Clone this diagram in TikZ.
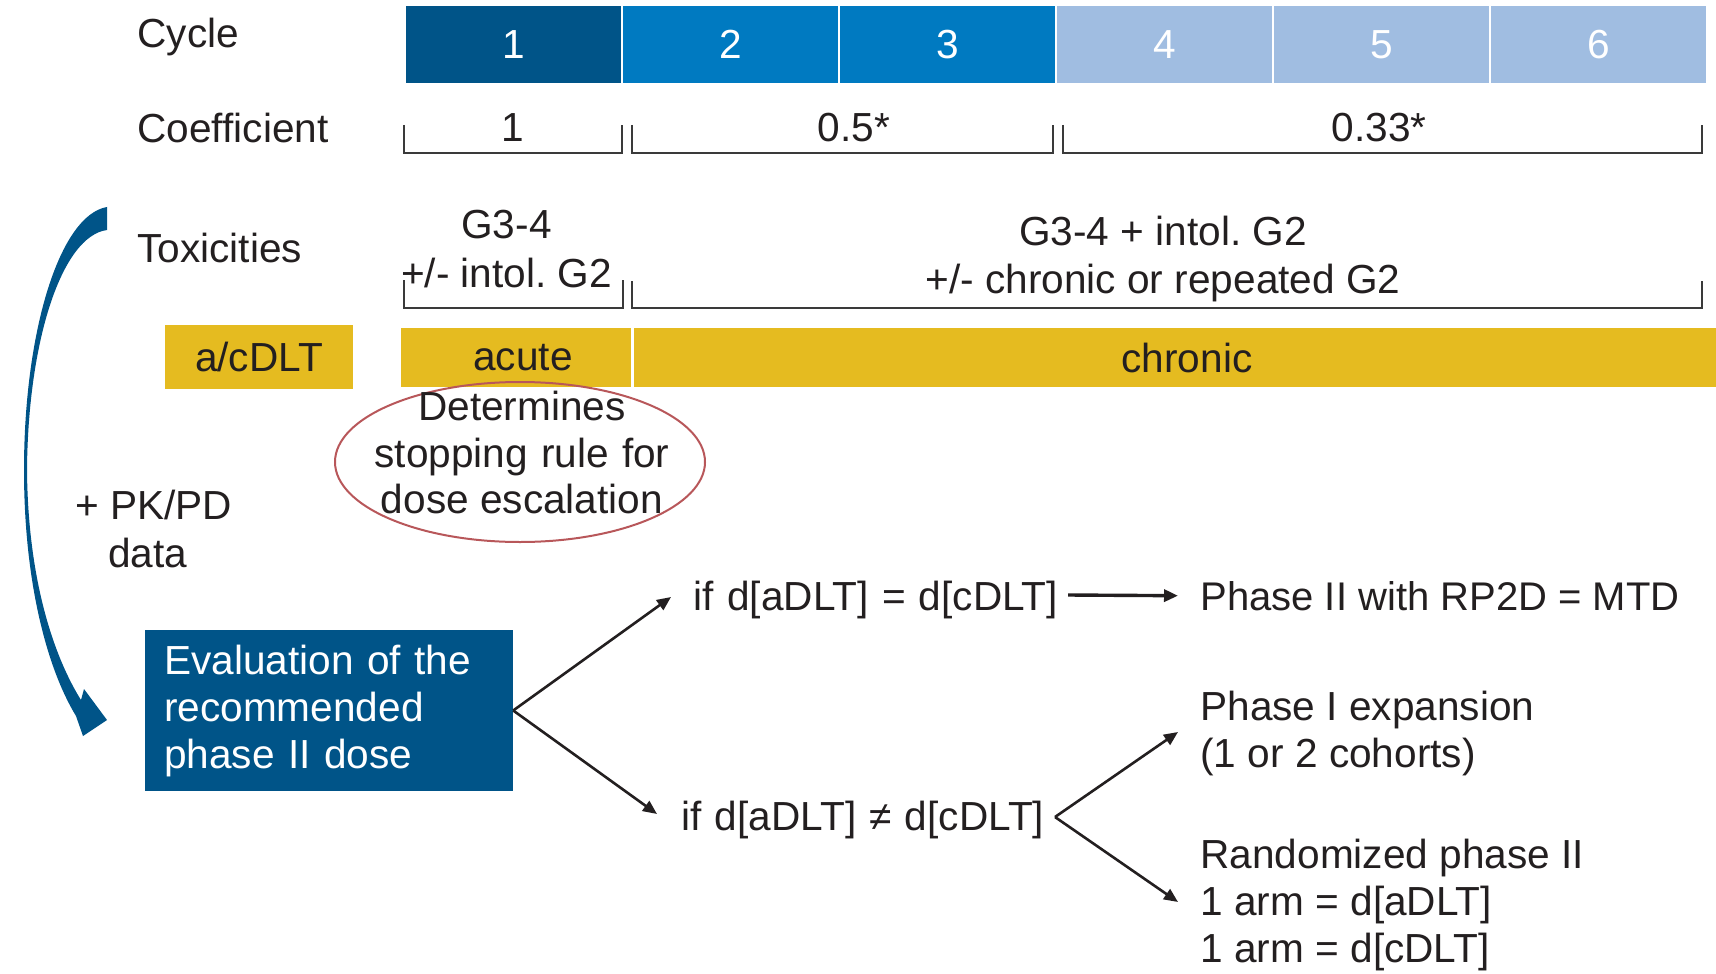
\documentclass[tikz,border=0pt]{standalone}
\usepackage{fontspec}
\setmainfont{Liberation Sans}
\usetikzlibrary{arrows.meta,shapes.geometric}

\definecolor{cycA}{HTML}{005488}
\definecolor{cycB}{HTML}{007AC1}
\definecolor{cycC}{HTML}{A0BDE1}
\definecolor{gold}{HTML}{E5BB20}
\definecolor{ink}{HTML}{231F20}
\definecolor{ring}{HTML}{B8575A}
\definecolor{brk}{HTML}{3A3A3A}

\newcommand\widewords{\spaceskip=6.6pt\relax}
\frenchspacing
\begin{document}
\begin{tikzpicture}[x=0.5pt,y=-0.5pt,
  every node/.style={font=\fontsize{20.3}{23.5}\selectfont, text=ink, inner sep=0pt},
  lbl/.style={anchor=base west},
  mid/.style={anchor=base},
  cycbox/.style={minimum width=107.5pt, minimum height=38.5pt, text=white},
  goldbox/.style={fill=gold, minimum height=30pt},
  bracket/.style={draw=brk, line width=1.1pt},
  arr/.style={draw=ink, line width=1.3pt, -{Triangle[length=7pt,width=6pt]}},
  harr/.style={draw=ink, line width=1.7pt, -{Triangle[length=7pt,width=6pt]}}
]
\useasboundingbox (0,0) rectangle (1716,973);

% row labels
\node[lbl] (lcycle) at (137,48) {Cycle};
\node[lbl] (lcoef) at (137,143) {Coefficient};
\node[lbl] (ltox) at (137,263) {Toxicities};

% treatment cycles
\node[cycbox, fill=cycA] (c1) at (513.5,44.5) {1};
\node[cycbox, fill=cycB] (c2) at (730.5,44.5) {2};
\node[cycbox, fill=cycB] (c3) at (947.5,44.5) {3};
\node[cycbox, fill=cycC] (c4) at (1164.5,44.5) {4};
\node[cycbox, fill=cycC] (c5) at (1381.5,44.5) {5};
\node[cycbox, fill=cycC] (c6) at (1598.5,44.5) {6};

% coefficient brackets
\draw[bracket] (404,125) -- (404,153) -- (622,153) -- (622,125);
\draw[bracket] (632,125) -- (632,153) -- (1053,153) -- (1053,125);
\draw[bracket] (1063,125) -- (1063,153) -- (1702,153) -- (1702,125);
\node[mid] (k1) at (513,142) {1};
\node[mid] (k2) at (854,142) {0.5*};
\node[mid] (k3) at (1379,142) {0.33*};

% toxicity brackets
\draw[bracket] (404,280) -- (404,308) -- (623,308) -- (623,280);
\draw[bracket] (632,281) -- (632,308) -- (1702,308) -- (1702,281);
\node[mid] (t1a) at (506.5,238) {G3-4};
\node[mid] (t1b) at (506.5,287) {+/- intol. G2};
\node[mid] (t2a) at (1163,245) {G3-4 + intol. G2};
\node[mid] (t2b) at (1163,293) {+/- chronic or repeated G2};

% DLT categories
\node[goldbox, minimum width=94pt, minimum height=32pt] (dlt) at (259,357) {a/cDLT};
\node[goldbox, minimum width=115pt, minimum height=29.5pt] (acute) at (516,357.5) {\hspace*{7pt}acute};
\node[goldbox, minimum width=553pt, minimum height=29.5pt] (chronic) at (1187,357.5) {chronic};

% stopping rule
\node[draw=ring, line width=1pt, ellipse, minimum width=185pt, minimum height=80pt] (ring) at (520,462) {};
\node[mid] (r1) at (522,420) {Determines};
\node[mid] (r2) at (522,467) {\widewords stopping rule for};
\node[mid] (r3) at (522,513) {dose escalation};

% PK/PD note
\node[lbl] (pk1) at (75,519) {+ PK/PD};
\node[lbl] (pk2) at (108,567) {data};

% feedback arrow
\fill[cycA] (107,207) .. controls (60,215) and (24,330) .. (24,470)
  .. controls (24,585) and (48,670) .. (76,716)
  -- (83,736) -- (107,720) -- (84,689) -- (81,700)
  .. controls (56,660) and (28,585) .. (27,470)
  .. controls (28,340) and (62,236) .. (107,230) -- cycle;

% evaluation box
\node[fill=cycA, minimum width=184pt, minimum height=80.5pt,
      text width=164.6pt, align=left] (ev) at (328.8,710.5)
  {\color{white}Evaluation of the\\recommended\\phase II dose};

% decision branches
\node[lbl] (ifeq) at (693.5,610) {\widewords if d[aDLT] = d[cDLT]};
\node[lbl] (ifne) at (681,830) {\widewords if d[aDLT] ≠ d[cDLT]};
\node[lbl, font=\fontsize{20}{23.5}\selectfont] (p2) at (1200,610) {Phase II with RP2D = MTD};
\node[lbl] (pe1) at (1200,720) {Phase I expansion};
\node[lbl] (pe2) at (1200,767) {(1 or 2 cohorts)};
\node[lbl] (rp1) at (1200,868) {Randomized phase II};
\node[lbl] (rp2) at (1200,915) {1 arm = d[aDLT]};
\node[lbl] (rp3) at (1200,962) {1 arm = d[cDLT]};

\coordinate (tipA) at (671,597);
\coordinate (tipB) at (657,814);
\coordinate (hstart) at (1068,595);
\coordinate (fork) at (1055,817);
\coordinate (tipC) at (1178,732);
\coordinate (tipD) at (1178,902);

\draw[arr] (ev.east) -- (tipA);
\draw[arr] (ev.east) -- (tipB);
\draw[harr] (hstart) -- ([xshift=-11pt]p2.west);
\draw[arr] (fork) -- (tipC);
\draw[arr] (fork) -- (tipD);
\end{tikzpicture}
\end{document}
